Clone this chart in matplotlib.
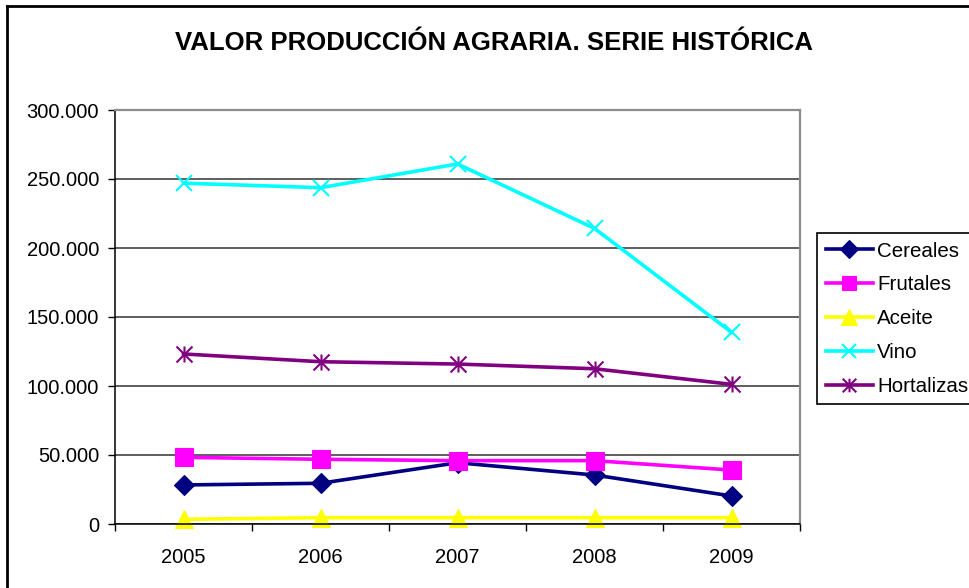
import matplotlib.pyplot as plt
import numpy as np
from matplotlib.path import Path
from matplotlib.ticker import FuncFormatter, FixedLocator

plt.rcParams['font.family'] = ['Liberation Sans', 'DejaVu Sans']

# Data
years = ['2005', '2006', '2007', '2008', '2009']
cereales = [28300, 29500, 44400, 35500, 20300]
frutales = [48300, 46900, 45900, 45900, 39100]
aceite = [3400, 4600, 4600, 4600, 4600]
vino = [247000, 243700, 260900, 214200, 138900]
hortalizas = [123200, 117600, 115900, 112500, 101200]

# Excel-like asterisk marker: vertical bar plus an x
star = Path([(0, -1), (0, 1), (-1, -1), (1, 1), (-1, 1), (1, -1)],
            [Path.MOVETO, Path.LINETO, Path.MOVETO, Path.LINETO, Path.MOVETO, Path.LINETO])

series = [
    ('Cereales', cereales, '#000080', 'D', 10.5, 'full'),
    ('Frutales', frutales, '#FF00FF', 's', 12.5, 'full'),
    ('Aceite', aceite, '#FFFF00', '^', 13, 'full'),
    ('Vino', vino, '#00FFFF', 'x', 11.5, 'none'),
    ('Hortalizas', hortalizas, '#800080', star, 11.5, 'none'),
]

fig = plt.figure(figsize=(9.7, 5.88), dpi=100)
ax = fig.add_axes([115 / 970, 64 / 588, 685 / 970, 414 / 588])

x = np.arange(len(years))
for name, vals, color, marker, ms, fill in series:
    ax.plot(x, vals, color=color, lw=2.6, marker=marker, markersize=ms,
            markerfacecolor=color if fill == 'full' else 'none',
            markeredgecolor=color, markeredgewidth=1.5 if fill == 'none' else 0.8,
            label=name, clip_on=False)

ax.set_xlim(-0.5, len(years) - 0.5)
ax.set_ylim(0, 300000)
ax.set_yticks(np.arange(0, 300001, 50000))
ax.yaxis.set_major_formatter(FuncFormatter(lambda v, p: f'{int(v):,}'.replace(',', '.')))
ax.set_xticks(x)
ax.set_xticklabels(years)
ax.xaxis.set_minor_locator(FixedLocator(np.arange(-0.5, len(years), 1.0)))

ax.tick_params(axis='x', which='major', length=0, pad=17, labelsize=14.5)
ax.tick_params(axis='x', which='minor', length=5, width=1, direction='out', color='black')
ax.tick_params(axis='y', length=5, width=1, direction='out', pad=6.5, labelsize=14.5)

ax.grid(axis='y', color='#333333', lw=1.1)
ax.set_axisbelow(True)
for s in ['left', 'bottom']:
    ax.spines[s].set_color('black')
    ax.spines[s].set_linewidth(1.1)
for s in ['top', 'right']:
    ax.spines[s].set_color('#8c8c8c')
    ax.spines[s].set_linewidth(1.6)

fig.text(494 / 970, 1 - 43 / 588, 'VALOR PRODUCCIÓN AGRARIA. SERIE HISTÓRICA',
         ha='center', va='center', fontsize=18.5, fontweight='bold')

leg = fig.legend(loc='upper left', bbox_to_anchor=(817 / 970, 1 - 233 / 588),
                 fontsize=14.8, frameon=True, fancybox=False, framealpha=1,
                 edgecolor='black', handlelength=2.3, handletextpad=0.2,
                 labelspacing=0.72, borderpad=0.42, borderaxespad=0,
                 markerscale=0.85)
leg.get_frame().set_linewidth(1.2)

# outer chart border (left and top visible)
fig.add_artist(plt.Line2D([7 / 970, 7 / 970], [0, 1 - 6 / 588], color='black', lw=2))
fig.add_artist(plt.Line2D([7 / 970, 1], [1 - 6 / 588, 1 - 6 / 588], color='black', lw=2))

plt.savefig('out.png', dpi=100)
